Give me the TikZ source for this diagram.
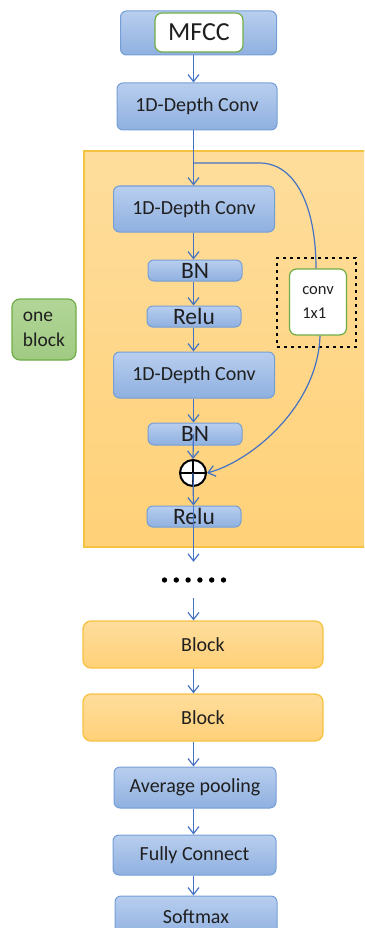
\documentclass[tikz,border=0pt]{standalone}
\usepackage{fontspec}
\setmainfont{Carlito}
\usetikzlibrary{arrows.meta, positioning, calc}
\definecolor{linkblue}{RGB}{68,114,196}
\definecolor{boxtop}{RGB}{184,206,238}
\definecolor{boxbot}{RGB}{143,176,224}
\definecolor{boxedge}{RGB}{118,158,214}
\definecolor{blocktop}{RGB}{254,221,156}
\definecolor{blockbot}{RGB}{255,209,120}
\definecolor{blockedge}{RGB}{246,194,66}
\definecolor{greentop}{RGB}{178,214,152}
\definecolor{greenbot}{RGB}{160,202,130}
\definecolor{greenedge}{RGB}{112,173,71}

\begin{document}
\begin{tikzpicture}[x=1pt, y=-1pt,
    bluebox/.style={draw=boxedge, line width=1pt, rounded corners=6pt,
      top color=boxtop, bottom color=boxbot, inner sep=0pt, text=black!88},
    blockbox/.style={draw=blockedge, line width=1.3pt, rounded corners=8pt,
      top color=blocktop, bottom color=blockbot, inner sep=0pt, text=black!88},
    whitebox/.style={draw=greenedge, line width=1.2pt, rounded corners=7pt,
      fill=white, inner sep=0pt, text=black!88},
    arr/.style={draw=linkblue, line width=1.2pt,
      -{Straight Barb[length=7pt,width=11pt,line width=1.2pt]}},
    link/.style={draw=linkblue, line width=1.2pt},
    midfont/.style={font=\fontsize{20}{24}\selectfont},
    bigfont/.style={font=\fontsize{23.5}{26}\selectfont}]
  \useasboundingbox (0,0) rectangle (364,928);
  \clip (0,0) rectangle (364,928);
  % Block background
  \node[draw=blockedge, line width=1.3pt, top color=blocktop, bottom color=blockbot,
        minimum width=286pt, minimum height=396pt, inner sep=0pt]
    (blockarea) at (227,349) {};
  % Input
  \node[bluebox, minimum width=156pt, minimum height=44pt] (mfccbg) at (198.5,33) {};
  \node[whitebox, minimum width=88pt, minimum height=39pt,
        font=\fontsize{26}{30}\selectfont] (mfcc) at (199,32.5) {MFCC};
  \node[bluebox, midfont, minimum width=160pt, minimum height=47pt] (conv0) at (197,106.5) {1D-Depth Conv};
  % Inside one block
  \node[bluebox, midfont, minimum width=161pt, minimum height=46pt] (conv1) at (194,209) {1D-Depth Conv};
  \node[bluebox, bigfont, minimum width=94pt, minimum height=21pt] (bn1) at (195,270.5) {BN};
  \node[bluebox, bigfont, minimum width=94pt, minimum height=21pt] (relu1) at (194,316.5) {Relu};
  \node[bluebox, midfont, minimum width=161pt, minimum height=46pt] (conv2) at (194,375) {1D-Depth Conv};
  \node[bluebox, bigfont, minimum width=94pt, minimum height=22pt] (bn2) at (195,434) {BN};
  \node[draw=black, line width=2pt, fill=white, circle, minimum size=26pt, inner sep=0pt]
    (plus) at (193,473) {};
  \draw[line width=1.6pt] (plus.north) -- (plus.south) (plus.west) -- (plus.east);
  \node[bluebox, bigfont, minimum width=94pt, minimum height=21pt] (relu2) at (194,516.5) {Relu};
  % Shortcut branch
  \node[draw=black, line width=2.6pt, dash pattern=on 2.6pt off 4.4pt,
        minimum width=79pt, minimum height=89pt, inner sep=0pt] (dotframe) at (316.5,302.5) {};
  \node[whitebox, align=left, font=\fontsize{16.5}{24}\selectfont,
        minimum width=57pt, minimum height=66pt] (conv11) at (318,302) {conv\\1x1};
  \node[draw=greenedge, line width=1.2pt, rounded corners=8pt, top color=greentop,
        bottom color=greenbot, align=left, inner sep=0pt, text=black!88,
        font=\fontsize{19.5}{25}\selectfont, minimum width=64pt, minimum height=61pt]
    (oneblock) at (44,329.5) {one\\block};
  % Repeated blocks and head
  \node[minimum width=64pt, minimum height=36pt, inner sep=0pt] (dots) at (194,580) {};
  \foreach \i in {0,...,5}
    \fill ([xshift={(\i-2.5)*11.8pt}]dots.center) circle (2.7pt);
  \node[blockbox, midfont, minimum width=240pt, minimum height=47pt] (block1) at (203,644.5) {Block};
  \node[blockbox, midfont, minimum width=240pt, minimum height=47pt] (block2) at (203,717.5) {Block};
  \node[bluebox, midfont, minimum width=162pt, minimum height=41pt] (avgpool) at (195,787.5) {Average pooling};
  \node[bluebox, midfont, minimum width=163pt, minimum height=40pt] (fc) at (194.5,855) {Fully Connect};
  \node[bluebox, midfont, minimum width=162pt, minimum height=42pt] (softmax) at (196,917) {Softmax};
  \coordinate (axis) at (193.5,0);
  \coordinate (split) at (193.5,163);
  % Arrows
  \draw[arr] (mfccbg.south -| axis) -- (conv0.north -| axis);
  \draw[arr] (conv0.south -| axis) -- (conv1.north -| axis);
  \draw[arr] (conv1.south -| axis) -- (bn1.north -| axis);
  \draw[arr] (bn1.south -| axis) -- (relu1.north -| axis);
  \draw[arr] (relu1.south -| axis) -- (conv2.north -| axis);
  \draw[arr] (conv2.south -| axis) -- (bn2.north -| axis);
  \draw[arr] (bn2.center -| axis) -- (plus.north);
  \draw[arr] (plus.center) -- (relu2.north -| axis);
  \draw[arr] (relu2.north -| axis) -- (dots.north -| axis);
  \draw[link] (split) -- ++(66,0) .. controls +(36,0) and +(0,-62) .. ([xshift=-2pt]conv11.north);
  \draw[arr] ([xshift=2pt]conv11.south) .. controls +(-2,70) and +(45,-12) .. (plus.east);
  \draw[arr] (dots.south -| axis) -- (block1.north -| axis);
  \draw[arr] (block1.south -| axis) -- (block2.north -| axis);
  \draw[arr] (block2.south -| axis) -- (avgpool.north -| axis);
  \draw[arr] (avgpool.south -| axis) -- (fc.north -| axis);
  \draw[arr] (fc.south -| axis) -- (softmax.north -| axis);
\end{tikzpicture}
\end{document}
